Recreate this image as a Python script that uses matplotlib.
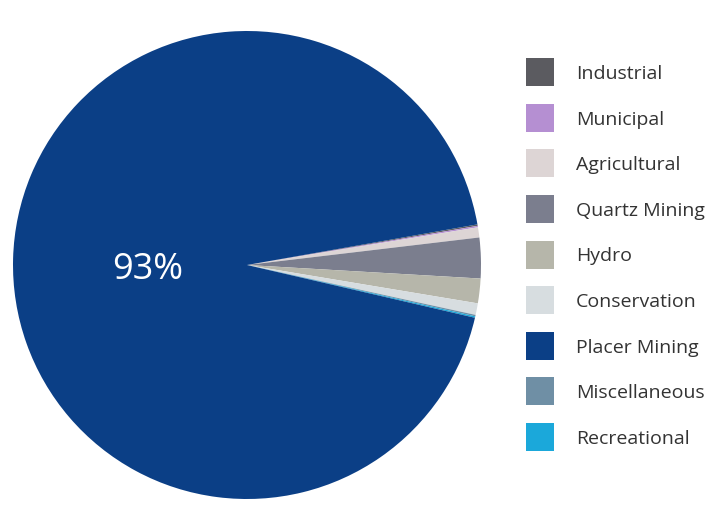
import matplotlib
matplotlib.use("Agg")
import matplotlib.pyplot as plt
from matplotlib.lines import Line2D

# usage categories (legend order) and share of water use, %
categories = ["Industrial", "Municipal", "Agricultural", "Quartz Mining", "Hydro",
              "Conservation", "Placer Mining", "Miscellaneous", "Recreational"]
shares = [0.1, 0.1, 0.7, 2.8, 1.7, 0.8, 93.6, 0.1, 0.1]
colors = ["#5b5b60", "#b58fd2", "#ddd5d5", "#7b7e8e", "#b6b6aa",
          "#d7dde0", "#0b3f86", "#6f8fa5", "#1ba8da"]
big_label = "93%"

# order wedges so the small uses sit together on the right
draw_order = [0, 1, 2, 3, 4, 5, 7, 8, 6]

plt.rcParams['font.family'] = ['Open Sans', 'DejaVu Sans']

fig = plt.figure(figsize=(7.09, 5.29), dpi=100)
ax = fig.add_axes([13 / 709, 30 / 529, 468 / 709, 468 / 529])

vals = [shares[i] for i in draw_order]
cols = [colors[i] for i in draw_order]
wedges, _ = ax.pie(vals, colors=cols, startangle=10, counterclock=False,
                   wedgeprops=dict(linewidth=0))
ax.set_xlim(-1, 1)
ax.set_ylim(-1, 1)
ax.set_aspect("equal")

ax.text(-0.425, -0.023, big_label, color="white", fontsize=26,
        ha="center", va="center")

handles = [Line2D([], [], marker="s", linestyle="none", markersize=19.5,
                  markerfacecolor=c, markeredgewidth=0) for c in colors]
fig.legend(handles, categories, loc="upper left", bbox_to_anchor=(0.7226, 0.892),
           frameon=False, fontsize=14, labelcolor="#333333",
           labelspacing=1.42, handletextpad=0.875, borderaxespad=0)

fig.savefig("out.png", dpi=100)
